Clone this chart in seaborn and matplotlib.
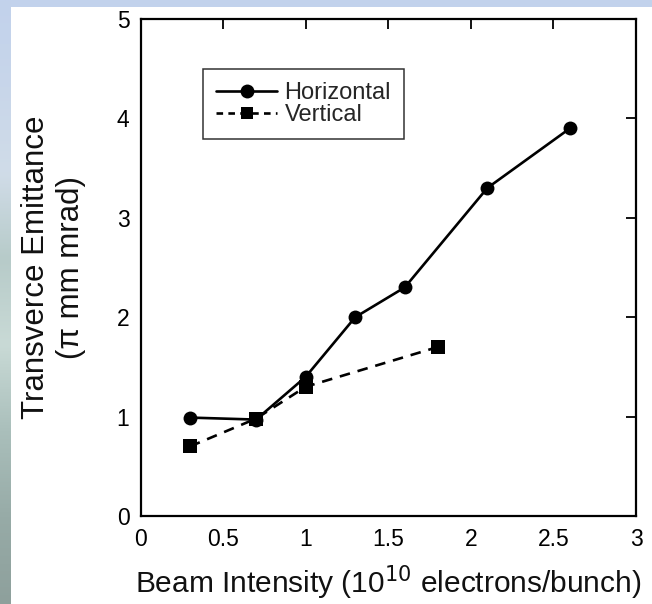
import numpy as np
import pandas as pd
import matplotlib
matplotlib.use("Agg")
import matplotlib.pyplot as plt
import seaborn as sns
from matplotlib.lines import Line2D
from matplotlib.colors import LinearSegmentedColormap

# ---- data ----
h_x = [0.3, 0.7, 1.0, 1.3, 1.6, 2.1, 2.6]
h_y = [0.99, 0.97, 1.40, 2.00, 2.30, 3.30, 3.90]
v_x = [0.3, 0.7, 1.0, 1.8]
v_y = [0.70, 0.98, 1.30, 1.70]
x_ticks = [0, 0.5, 1, 1.5, 2, 2.5, 3]
x_tick_labels = ["0", "0.5", "1", "1.5", "2", "2.5", "3"]
y_ticks = [0, 1, 2, 3, 4, 5]
y_tick_labels = ["0", "1", "2", "3", "4", "5"]
series_names = ["Horizontal", "Vertical"]

df = pd.concat([
    pd.DataFrame({"x": h_x, "y": h_y, "series": series_names[0]}),
    pd.DataFrame({"x": v_x, "y": v_y, "series": series_names[1]}),
])

sns.set_theme(style="white")
plt.rcParams['font.family'] = ['Liberation Sans', 'DejaVu Sans']

W, H = 652, 604
fig = plt.figure(figsize=(W / 100, H / 100), dpi=100)
fig.patch.set_facecolor("white")

# decorative background strips (top and left)
top = fig.add_axes([0, 1 - 7 / H, 1, 7 / H])
top.set_axis_off()
top.add_patch(plt.Rectangle((0, 0), 1, 1, transform=top.transAxes, color="#c2d2ec"))
left = fig.add_axes([0, 0, 11 / W, 1])
cmap = LinearSegmentedColormap.from_list(
    "bg", ["#c2d2ec", "#c8d6ea", "#d0dce8", "#b7cbc9", "#c9dad6", "#aabfbb", "#97aba7", "#8ea09c"])
grad = np.linspace(0, 1, 256).reshape(-1, 1)
left.imshow(grad, aspect="auto", cmap=cmap, extent=[0, 1, 1, 0])
left.set_axis_off()

ax = fig.add_axes([140.5 / W, 1 - 516 / H, (636 - 140.5) / W, (516 - 19) / H])
ax.set_facecolor("white")

sns.lineplot(data=df, x="x", y="y", hue="series", style="series",
             markers={"Horizontal": "o", "Vertical": "s"},
             dashes={"Horizontal": "", "Vertical": (4, 3)},
             palette={"Horizontal": "black", "Vertical": "black"},
             markersize=10, linewidth=1.9, markeredgewidth=0,
             ax=ax, legend=False, sort=False)

ax.set_xlim(0, 3)
ax.set_ylim(0, 5)
ax.set_xticks(x_ticks)
ax.set_xticklabels(x_tick_labels)
ax.set_yticks(y_ticks)
ax.set_yticklabels(y_tick_labels)
ax.tick_params(direction="in", length=7.5, width=1.3, colors="black",
               labelsize=16.5, top=True, right=True, pad=8)
ax.tick_params(axis="x", pad=9)
for s in ax.spines.values():
    s.set_color("black")
    s.set_linewidth(1.6)

ax.set_xlabel(r"Beam Intensity (10$^{10}$ electrons/bunch)", fontsize=21.5, labelpad=9, color="#111111")
ax.set_ylabel("Transverce Emittance\n(π mm mrad)", fontsize=22.5, labelpad=22,
              linespacing=1.2, color="#111111")

handles = [
    Line2D([], [], color="black", marker="o", markersize=10, markeredgewidth=0,
           linewidth=1.9, linestyle="-"),
    Line2D([], [], color="black", marker="s", markersize=8, markeredgewidth=0,
           linewidth=1.9, linestyle=(0, (2.5, 2))),
]
leg = ax.legend(handles, series_names, loc="upper left", bbox_to_anchor=(0.126, 0.899),
                fontsize=17, frameon=True, fancybox=False, edgecolor="black",
                borderpad=0.55, handlelength=2.6, handletextpad=0.3, labelspacing=0.0,
                borderaxespad=0)
leg.get_frame().set_linewidth(1.1)

fig.savefig("out.png", dpi=100)
